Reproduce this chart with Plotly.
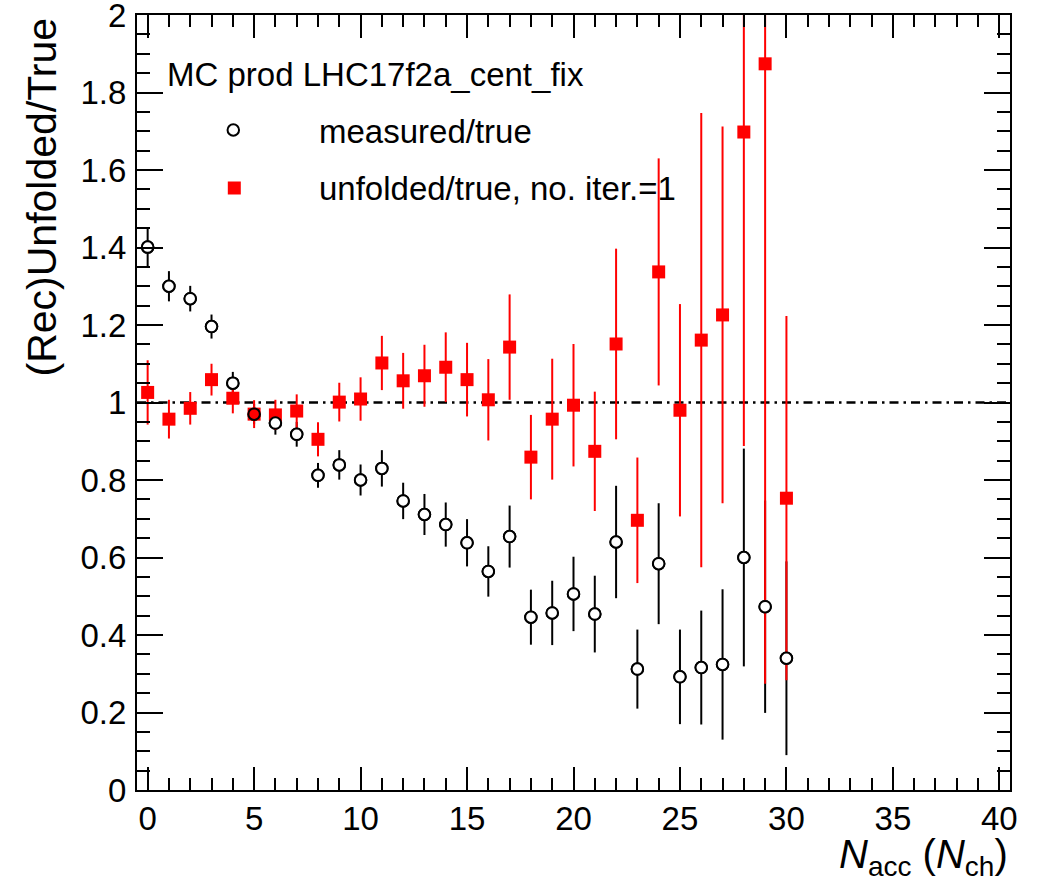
import plotly.graph_objects as go

# ---------------- data ----------------
n_acc = list(range(31))
measured = [1.401, 1.300, 1.268, 1.196, 1.050, 0.970, 0.947, 0.918, 0.812, 0.839,
            0.800, 0.830, 0.746, 0.711, 0.685, 0.638, 0.564, 0.654, 0.446, 0.457,
            0.506, 0.454, 0.640, 0.312, 0.584, 0.292, 0.316, 0.324, 0.600, 0.473, 0.340]
measured_err = [0.050, 0.039, 0.033, 0.031, 0.029, 0.026, 0.030, 0.032, 0.032, 0.038,
                0.040, 0.047, 0.047, 0.053, 0.057, 0.061, 0.065, 0.080, 0.071, 0.083,
                0.096, 0.099, 0.145, 0.102, 0.156, 0.122, 0.147, 0.194, 0.281, 0.274, 0.250]
unfolded = [1.026, 0.957, 0.985, 1.059, 1.011, 0.970, 0.968, 0.978, 0.905, 1.001,
            1.009, 1.102, 1.056, 1.069, 1.091, 1.059, 1.007, 1.143, 0.859, 0.957,
            0.993, 0.874, 1.151, 0.696, 1.337, 0.980, 1.161, 1.226, 1.698, 1.874, 0.753]
unfolded_err = [0.083, 0.050, 0.042, 0.041, 0.039, 0.036, 0.039, 0.043, 0.044, 0.050,
                0.056, 0.070, 0.072, 0.080, 0.090, 0.095, 0.105, 0.136, 0.109, 0.156,
                0.158, 0.154, 0.246, 0.162, 0.293, 0.274, 0.586, 0.486, 0.810, 1.600, 0.470]

y_tickvals = [0, 0.2, 0.4, 0.6, 0.8, 1, 1.2, 1.4, 1.6, 1.8, 2]
y_ticktext = ["0", "0.2", "0.4", "0.6", "0.8", "1", "1.2", "1.4", "1.6", "1.8", "2"]
x_tickvals = [0, 5, 10, 15, 20, 25, 30, 35, 40]

header_text = "MC prod LHC17f2a_cent_fix"
label_measured = "measured/true"
label_unfolded = "unfolded/true, no. iter.=1"
x_title = "<i>N</i><sub>acc</sub> (<i>N</i><sub>ch</sub>)"
y_title = "(Rec)Unfolded/True"

# ---------------- layout geometry ----------------
W, H = 1043, 883
PLOT_L, PLOT_R, PLOT_T, PLOT_B = 137, 1010, 15, 790   # page pixels
L, T, R, B = PLOT_L, PLOT_T, W - PLOT_R, H - PLOT_B
PW, PH = PLOT_R - PLOT_L, PLOT_B - PLOT_T
FONT = "Liberation Sans, Arial, Helvetica, sans-serif"
RED = "#ff0000"
CIRCLE_SIZE = 11.5
SQUARE_SIZE = 13


def px(xp):
    """page pixel x -> paper coordinate"""
    return (xp - PLOT_L) / PW


def py(yp):
    """page pixel y -> paper coordinate"""
    return (PLOT_B - yp) / PH


fig = go.Figure()

# measured: error bars + white-filled circles
fig.add_trace(go.Scatter(
    x=n_acc, y=measured, mode="markers",
    error_y=dict(type="data", array=measured_err, visible=True,
                 color="black", thickness=2, width=0),
    marker=dict(symbol="circle", size=CIRCLE_SIZE, color="white",
                line=dict(color="black", width=2)),
    showlegend=False, hoverinfo="x+y"))

# unfolded: red squares with error bars
fig.add_trace(go.Scatter(
    x=n_acc, y=unfolded, mode="markers",
    error_y=dict(type="data", array=unfolded_err, visible=True,
                 color=RED, thickness=2, width=0),
    marker=dict(symbol="square", size=SQUARE_SIZE, color=RED, line=dict(width=0)),
    showlegend=False, hoverinfo="x+y"))

# measured circle outlines on top (transparent where a square sits underneath)
fill = ["rgba(0,0,0,0)" if abs(m - u) < 0.01 else "white"
        for m, u in zip(measured, unfolded)]
fig.add_trace(go.Scatter(
    x=n_acc, y=measured, mode="markers",
    marker=dict(symbol="circle", size=CIRCLE_SIZE, color=fill,
                line=dict(color="black", width=2)),
    showlegend=False, hoverinfo="skip"))

shapes = [
    # reference line at 1
    dict(type="line", xref="paper", yref="y", x0=0, x1=1, y0=1, y1=1,
         line=dict(color="black", width=2.5, dash="9px,5px,2.5px,5px"), layer="below"),
    # legend symbols
    dict(type="circle", xref="paper", yref="paper",
         x0=px(233.3 - 5.75), x1=px(233.3 + 5.75), y0=py(130 + 5.75), y1=py(130 - 5.75),
         line=dict(color="black", width=2), fillcolor="white"),
    dict(type="rect", xref="paper", yref="paper",
         x0=px(234.3 - 6.5), x1=px(234.3 + 6.5), y0=py(188 + 6.5), y1=py(188 - 6.5),
         line=dict(width=0), fillcolor=RED),
]

annotations = [
    dict(text=header_text, xref="paper", yref="paper", x=px(165), y=py(74),
         xanchor="left", yanchor="middle", showarrow=False,
         font=dict(family=FONT, size=33, color="black")),
    dict(text=label_measured, xref="paper", yref="paper", x=px(317), y=py(131),
         xanchor="left", yanchor="middle", showarrow=False,
         font=dict(family=FONT, size=33, color="black")),
    dict(text=label_unfolded, xref="paper", yref="paper", x=px(317), y=py(189),
         xanchor="left", yanchor="middle", showarrow=False,
         font=dict(family=FONT, size=33, color="black")),
    dict(text=x_title, xref="paper", yref="paper", x=1.0, y=py(830),
         xanchor="right", yanchor="top", showarrow=False,
         font=dict(family=FONT, size=40, color="black")),
    dict(text=y_title, xref="paper", yref="paper", x=px(41), y=py(16),
         xanchor="center", yanchor="top", textangle=-90, showarrow=False,
         font=dict(family=FONT, size=41, color="black")),
]

axis_common = dict(
    showline=True, linecolor="black", linewidth=2, mirror="allticks",
    ticks="inside", tickwidth=2, tickcolor="black",
    showgrid=False, zeroline=False, ticklabeloverflow="allow", automargin=False,
    tickfont=dict(family=FONT, size=33, color="black"),
)

fig.update_layout(
    width=W, height=H,
    margin=dict(l=L, r=R, t=T, b=B, pad=0, autoexpand=False),
    paper_bgcolor="white", plot_bgcolor="white",
    shapes=shapes, annotations=annotations,
    showlegend=False,
    xaxis=dict(range=[-0.5, 40.5], tickmode="array", tickvals=x_tickvals,
               ticktext=[str(v) for v in x_tickvals], ticklen=23,
               minor=dict(tick0=0, dtick=1, ticks="inside", ticklen=12,
                          tickwidth=2, tickcolor="black", showgrid=False),
               ticklabelstandoff=-2,
               **axis_common),
    yaxis=dict(range=[0, 2], tickmode="array", tickvals=y_tickvals,
               ticktext=y_ticktext, ticklen=26,
               minor=dict(tick0=0, dtick=0.05, ticks="inside", ticklen=13,
                          tickwidth=2, tickcolor="black", showgrid=False),
               ticklabelstandoff=2,
               **axis_common),
)

fig.write_html("out.html",
               config={"displayModeBar": False},
               post_script="document.body.style.margin='0px';"
                           "document.body.style.overflow='hidden';")
